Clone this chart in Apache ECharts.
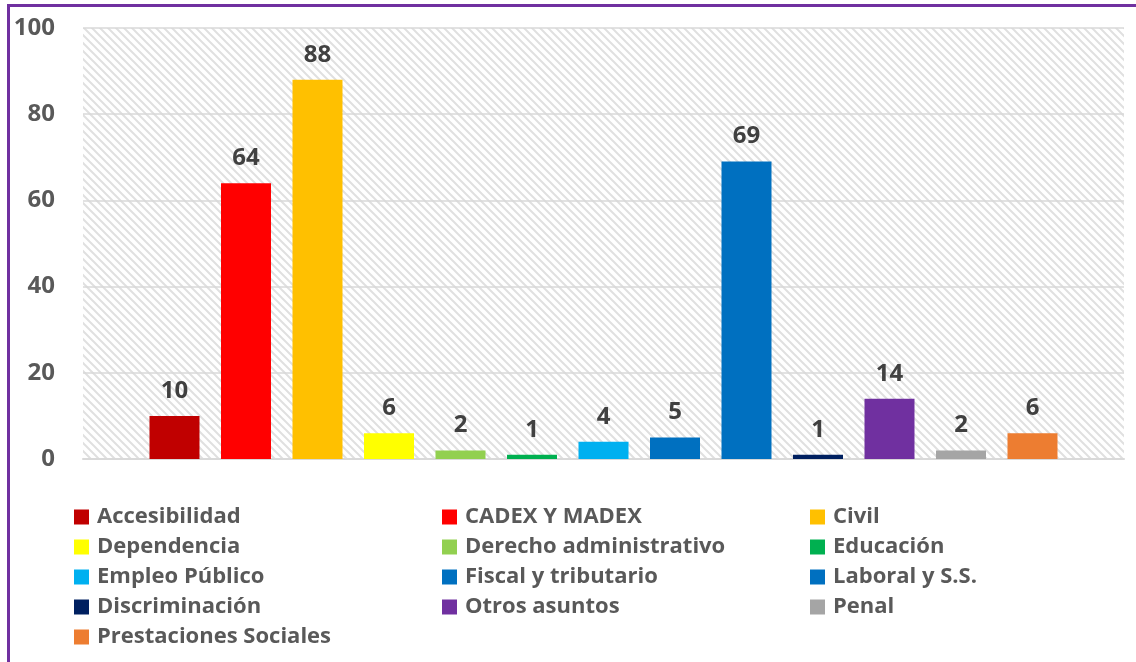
<!DOCTYPE html>
<html lang="es">
<head>
    <meta charset="UTF-8">
    <title>Asuntos</title>
    <script src="https://cdn.jsdelivr.net/npm/echarts@6/dist/echarts.min.js"></script>
    <style>
        body { margin: 0; background: #fff; }
    </style>
</head>
<body>
    <div id="bar" style="width: 1136px;height:662px;"></div>
    <script type="text/javascript">

        // datos
        var materias = ['Accesibilidad', 'CADEX Y MADEX', 'Civil', 'Dependencia', 'Derecho administrativo',
            'Educación', 'Empleo Público', 'Fiscal y tributario', 'Laboral y S.S.', 'Discriminación',
            'Otros asuntos', 'Penal', 'Prestaciones Sociales'];
        var valores = [10, 64, 88, 6, 2, 1, 4, 5, 69, 1, 14, 2, 6];
        var colores = ['#C00000', '#FF0000', '#FFC000', '#FFFF00', '#92D050', '#00B050', '#00B0F0',
            '#0070C0', '#0070C0', '#002060', '#7030A0', '#A5A5A5', '#ED7D31'];
        var yTicks = [0, 20, 40, 60, 80, 100];

        // legend columns (as in the picture, 3 columns)
        var col1 = [materias[0], materias[3], materias[6], materias[9], materias[12]];
        var col2 = [materias[1], materias[4], materias[7], materias[10]];
        var col3 = [materias[2], materias[5], materias[8], materias[11]];

        // trama diagonal del fondo
        var tile = document.createElement('canvas');
        tile.width = 8;
        tile.height = 8;
        var ctx = tile.getContext('2d');
        ctx.strokeStyle = '#e0e0e0';
        ctx.lineWidth = 2;
        ctx.beginPath();
        ctx.moveTo(-2, -2); ctx.lineTo(10, 10);
        ctx.moveTo(-2, 6); ctx.lineTo(2, 10);
        ctx.moveTo(6, -2); ctx.lineTo(10, 2);
        ctx.stroke();

        var font = '"Open Sans", Lato, sans-serif';

        var series = [];
        for (var i = 0; i < materias.length; i++) {
            series.push({
                name: materias[i],
                type: 'bar',
                data: [valores[i]],
                barWidth: 50,
                barGap: '43%',
                itemStyle: { color: colores[i] },
                label: {
                    show: true,
                    position: 'top',
                    distance: 13,
                    color: '#404040',
                    fontSize: 24,
                    fontWeight: 'bold',
                    fontFamily: font
                }
            });
        }

        function legendCol(left, data) {
            return {
                orient: 'vertical',
                left: left,
                top: 505,
                padding: 0,
                itemWidth: 15,
                itemHeight: 15,
                itemGap: 6,
                icon: 'rect',
                data: data,
                selectedMode: false,
                textStyle: {
                    color: '#595959',
                    fontSize: 22,
                    fontWeight: 'bold',
                    fontFamily: font,
                    lineHeight: 24,
                    padding: [0, 0, 0, 3]
                }
            };
        }

        var barChart = echarts.init(document.getElementById('bar'));
        barChart.setOption({
            animation: false,
            grid: {
                left: 83,
                right: 12,
                top: 28,
                bottom: 203,
                show: true,
                borderWidth: 0,
                backgroundColor: { image: tile, repeat: 'repeat' }
            },
            legend: [legendCol(74, col1), legendCol(442, col2), legendCol(810, col3)],
            xAxis: {
                type: 'category',
                data: [''],
                axisTick: { show: false },
                axisLabel: { show: false },
                axisLine: { lineStyle: { color: '#d9d9d9', width: 2 } }
            },
            yAxis: {
                type: 'value',
                min: yTicks[0],
                max: yTicks[yTicks.length - 1],
                interval: 20,
                axisLine: { show: false },
                axisTick: { show: false },
                axisLabel: {
                    margin: 28,
                    color: '#595959',
                    fontSize: 24,
                    fontWeight: 'bold',
                    fontFamily: font
                },
                splitLine: { lineStyle: { color: '#d9d9d9', width: 1.5 } }
            },
            graphic: [
                { type: 'rect', shape: { x: 7, y: 4, width: 1129, height: 3 }, style: { fill: '#7030A0' }, silent: true },
                { type: 'rect', shape: { x: 7, y: 4, width: 3, height: 658 }, style: { fill: '#7030A0' }, silent: true }
            ],
            series: series
        });

    </script>
</body>
</html>
